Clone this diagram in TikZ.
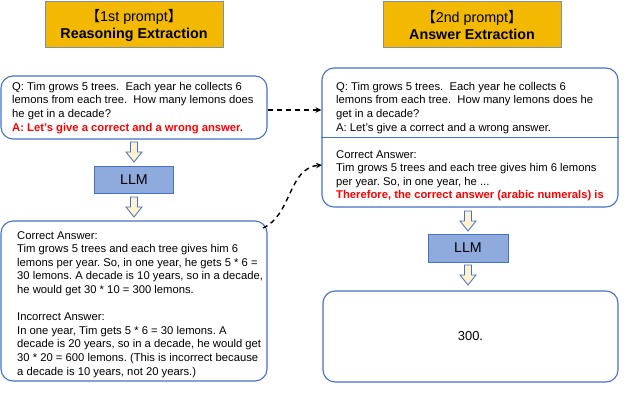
\documentclass[tikz,border=0pt]{standalone}
\usepackage{fontspec}
\setmainfont{Liberation Sans}
\newfontfamily\cjk{Noto Sans CJK SC}
\usetikzlibrary{arrows.meta,calc}
\definecolor{bord}{HTML}{4472C4}
\definecolor{gold}{HTML}{F2B900}
\definecolor{titlebord}{HTML}{7F8FA9}
\definecolor{llmfill}{HTML}{8FAADC}
\definecolor{arrfill}{HTML}{FFF2CC}
\definecolor{redtxt}{HTML}{FF0000}
\begin{document}
\frenchspacing
\begin{tikzpicture}[x=1pt,y=-1pt,
  titlebox/.style={draw=titlebord, fill=gold, line width=1pt, minimum width=178pt, minimum height=46pt, inner sep=0pt, align=center, font=\fontsize{14.3}{17}\selectfont},
  rbx/.style={draw=bord, line width=1.1pt, rounded corners=12pt, inner sep=0pt},
  txt/.style={inner sep=0pt, anchor=north west, align=left, font=\fontsize{11.25}{13.6}\selectfont},
  llmbox/.style={draw=bord, fill=llmfill, line width=1pt, inner sep=0pt, font=\fontsize{14.2}{17}\selectfont},
  dasharrow/.style={dash pattern=on 5pt off 4pt, line width=1.4pt, -{Stealth[length=6pt,width=5.5pt]}},
  blockarrow/.pic={\draw[bord, fill=arrfill, line width=0.8pt, line join=miter] (-3.5,0) -- (3.5,0) -- (3.5,10) -- (8,10) -- (0,20) -- (-8,10) -- (-3.5,10) -- cycle;}
]
\useasboundingbox (0,0) rectangle (640,404);

% titles
\node[titlebox] (t1) at (134,25) {{\cjk 【}1st prompt{\cjk 】}\\ \textbf{Reasoning Extraction}};
\node[titlebox] (t2) at (472,25) {{\cjk 【}2nd prompt{\cjk 】}\\ \textbf{Answer Extraction}};

% left column
\node[rbx, minimum width=266pt, minimum height=63pt] (q1) at (134,107.5) {};
\node[txt] (q1t) at (12,82) {Q: Tim grows 5 trees.\ \ Each year he collects 6\\lemons from each tree.\ \ How many lemons does\\he get in a decade?\\\textcolor{redtxt}{\textbf{A: Let's give a correct and a wrong answer.}}};

\pic at (134,142) {blockarrow};
\node[llmbox, minimum width=79pt, minimum height=27pt] (llm1) at (134,179.5) {LLM};
\pic at (134,197) {blockarrow};

\node[rbx, minimum width=266pt, minimum height=160pt] (a1) at (134,301) {};
\node[txt] (a1t) at (17,231) {Correct Answer:\\Tim grows 5 trees and each tree gives him 6\\lemons per year. So, in one year, he gets 5 * 6 =\\30 lemons. A decade is 10 years, so in a decade,\\he would get 30 * 10 = 300 lemons.\\[13.6pt]Incorrect Answer:\\In one year, Tim gets 5 * 6 = 30 lemons. A\\decade is 20 years, so in a decade, he would get\\30 * 20 = 600 lemons. (This is incorrect because\\a decade is 10 years, not 20 years.)};

% right column
\node[rbx, minimum width=296pt, minimum height=139pt] (q2) at (470,137.5) {};
\coordinate (div) at (470,137);
\draw[bord, line width=1pt] (div -| q2.west) -- (div -| q2.east);
\node[txt] (q2t) at (336,82) {Q: Tim grows 5 trees.\ \ Each year he collects 6\\lemons from each tree.\ \ How many lemons does he\\get in a decade?\\A: Let's give a correct and a wrong answer.};
\node[txt] (q2b) at (336,150) {Correct Answer:\\Tim grows 5 trees and each tree gives him 6 lemons\\per year. So, in one year, he ...\\\textcolor{redtxt}{\textbf{Therefore, the correct answer (arabic numerals) is}}};

\pic at (468,211) {blockarrow};
\node[llmbox, minimum width=80pt, minimum height=28pt] (llm2) at (468,248) {LLM};
\pic at (468,265) {blockarrow};

\node[rbx, minimum width=295pt, minimum height=91pt, font=\fontsize{12.9}{15}\selectfont] (res) at (470.5,336.5) {300.};

% dashed connectors
\draw[dasharrow] (q1.east |- 0,110) -- (q2.west |- 0,110);
\coordinate (a1c) at (263,228);
\coordinate (q2in) at (322,165);
\draw[dasharrow] (a1c) .. controls (292,215) and (288,168) .. (q2in);
\end{tikzpicture}
\end{document}
